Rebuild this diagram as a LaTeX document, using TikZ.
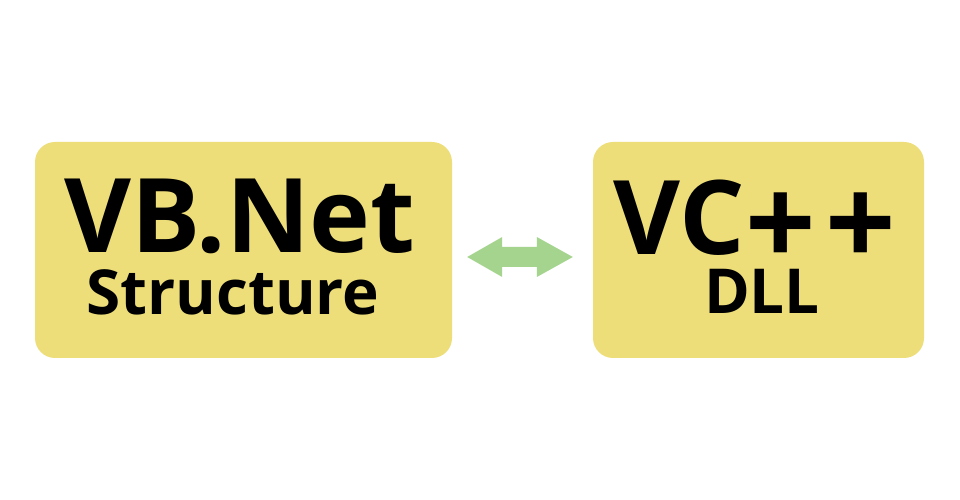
\documentclass[tikz,border=0pt]{standalone}
\usepackage{fontspec}
\setmainfont{Open Sans}
\usetikzlibrary{calc}
\definecolor{boxfill}{RGB}{237,222,122}
\definecolor{arrowgreen}{RGB}{164,212,142}
\newcommand{\bigplus}{\raisebox{-12pt}{\scalebox{1.2}{+}}}
\tikzset{
  card/.style={fill=boxfill, rounded corners=20pt, minimum height=216pt, inner sep=0pt},
  bigtext/.style={anchor=base, inner sep=0pt, text height=74pt, text depth=0pt, font=\fontsize{103}{103}\bfseries\selectfont},
  smalltext/.style={anchor=base, inner sep=0pt, text height=45pt, text depth=0pt, font=\fontsize{62}{62}\bfseries\selectfont},
}
\begin{document}
\begin{tikzpicture}[x=1pt,y=1pt]
\useasboundingbox (0,0) rectangle (960,500);
\fill[white] (0,0) rectangle (960,500);
\node[card, minimum width=417pt] (left) at (243.5,250) {};
\node[card, minimum width=331pt] (right) at (758.5,250) {};
\node[bigtext] (vb) at (240,247) {VB.Net};
\node[smalltext] (st) at (233,185) {Structure};
\node[bigtext, anchor=base west] (vc) at (613,245) {VC\kern1pt\bigplus\kern9pt\bigplus};
\node[smalltext] (dll) at (762,186) {DLL};
\coordinate (al) at ([xshift=15pt,yshift=-7pt]left.east);
\coordinate (ar) at ([xshift=-20pt,yshift=-7pt]right.west);
\fill[arrowgreen] (al) -- ++(35,20) -- ++(0,-10) -- ($(ar)+(-36,10)$) -- ++(0,10) -- (ar) -- ++(-36,-20) -- ++(0,10) -- ($(al)+(35,-10)$) -- ++(0,-10) -- cycle;
\end{tikzpicture}
\end{document}
